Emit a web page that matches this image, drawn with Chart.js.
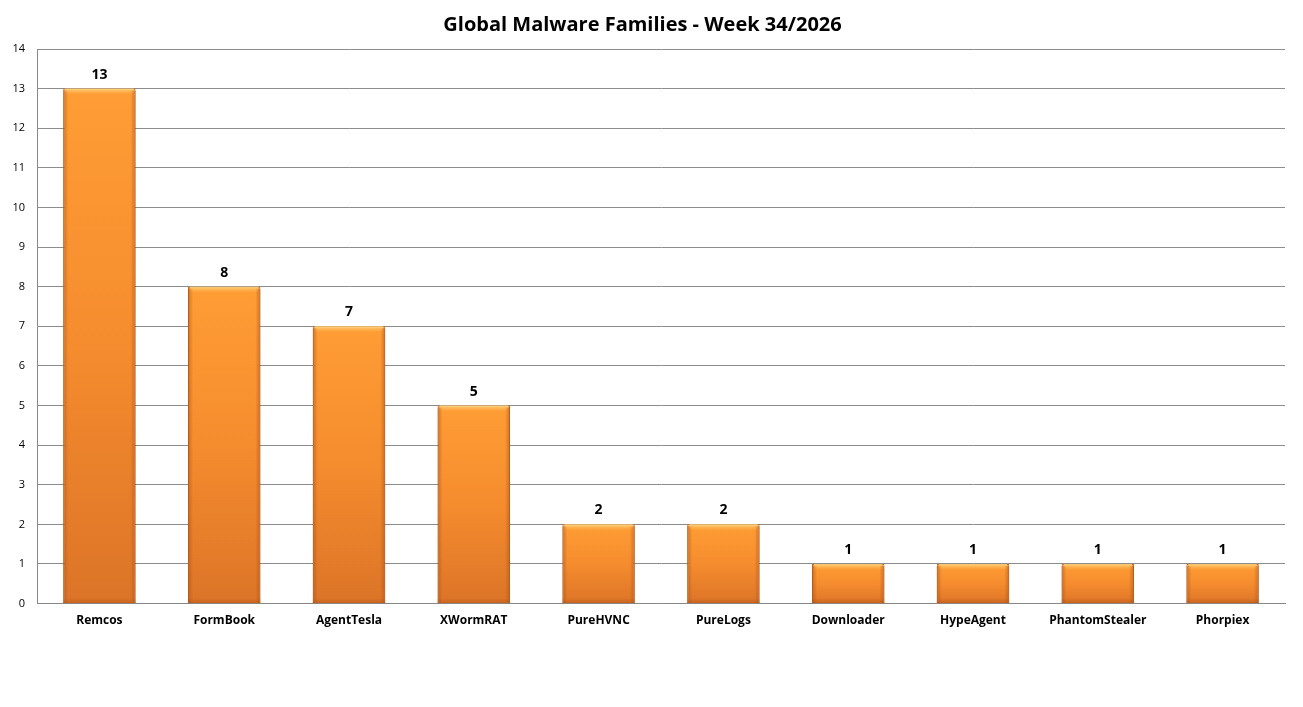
<!DOCTYPE html>
<html>
<head>
<meta charset="utf-8">
<title>Global Malware Families - Week 34/2026</title>
<script src="https://cdn.jsdelivr.net/npm/chart.js@4/dist/chart.umd.min.js"></script>
<style>
  html, body { margin: 0; padding: 0; background: #ffffff; }
  #wrap { width: 1303px; height: 707px; }
</style>
</head>
<body>
<div id="wrap"><canvas id="malwareChart" width="1303" height="707"></canvas></div>
<script>
// Chart data
const families = ['Remcos', 'FormBook', 'AgentTesla', 'XWormRAT', 'PureHVNC', 'PureLogs', 'Downloader', 'HypeAgent', 'PhantomStealer', 'Phorpiex'];
const detections = [13, 8, 7, 5, 2, 2, 1, 1, 1, 1];
const yTicks = [0, 1, 2, 3, 4, 5, 6, 7, 8, 9, 10, 11, 12, 13, 14];

const FONT = 'Open Sans, "DejaVu Sans", sans-serif';

// vertical orange gradient, one per bar (light top, darker bottom)
function barGradient(ctx) {
    const chart = ctx.chart;
    const area = chart.chartArea;
    const yScale = chart.scales.y;
    if (!area || !yScale || ctx.type !== 'data') return '#f08a2e';
    const top = yScale.getPixelForValue(ctx.raw);
    const bottom = yScale.getPixelForValue(0);
    const g = chart.ctx.createLinearGradient(0, top, 0, bottom);
    g.addColorStop(0, '#ff9d35');
    g.addColorStop(0.5, '#f58c2e');
    g.addColorStop(1, '#dc7428');
    return g;
}

// bevel highlight on top and shading on the sides of each bar
const bevelPlugin = {
    id: 'bevel',
    afterDatasetsDraw(chart) {
        const c = chart.ctx;
        chart.getDatasetMeta(0).data.forEach(bar => {
            const left = bar.x - bar.width / 2;
            const right = bar.x + bar.width / 2;
            const top = bar.y;
            const bottom = bar.base;
            c.save();
            // top highlight
            let g = c.createLinearGradient(0, top, 0, top + 6);
            g.addColorStop(0, 'rgba(255, 215, 130, 0.95)');
            g.addColorStop(1, 'rgba(255, 190, 90, 0)');
            c.fillStyle = g;
            c.fillRect(left + 2, top, bar.width - 4, 6);
            // left edge
            g = c.createLinearGradient(left, 0, left + 5, 0);
            g.addColorStop(0, 'rgba(170, 80, 20, 0.55)');
            g.addColorStop(1, 'rgba(170, 80, 20, 0)');
            c.fillStyle = g;
            c.fillRect(left, top + 2, 5, bottom - top - 2);
            // right edge
            g = c.createLinearGradient(right - 5, 0, right, 0);
            g.addColorStop(0, 'rgba(170, 80, 20, 0)');
            g.addColorStop(1, 'rgba(170, 80, 20, 0.55)');
            c.fillStyle = g;
            c.fillRect(right - 5, top + 2, 5, bottom - top - 2);
            // bottom edge
            g = c.createLinearGradient(0, bottom - 5, 0, bottom);
            g.addColorStop(0, 'rgba(170, 80, 20, 0)');
            g.addColorStop(1, 'rgba(170, 80, 20, 0.45)');
            c.fillStyle = g;
            c.fillRect(left, bottom - 5, bar.width, 5);
            c.restore();
        });
    }
};

// value labels above bars
const valueLabels = {
    id: 'valueLabels',
    afterDatasetsDraw(chart) {
        const c = chart.ctx;
        const ds = chart.data.datasets[0];
        c.save();
        c.font = 'bold 14px ' + FONT;
        c.fillStyle = '#000000';
        c.textAlign = 'center';
        c.textBaseline = 'bottom';
        chart.getDatasetMeta(0).data.forEach((bar, i) => {
            c.fillText(ds.data[i], bar.x, bar.y - 7);
        });
        c.restore();
    }
};

new Chart(document.getElementById('malwareChart'), {
    type: 'bar',
    data: {
        labels: families,
        datasets: [{
            data: detections,
            backgroundColor: barGradient,
            borderColor: '#c9681f',
            borderWidth: 1,
            categoryPercentage: 0.58,
            barPercentage: 1.0
        }]
    },
    options: {
        responsive: false,
        animation: false,
        layout: { padding: { left: 0, right: 18, top: 0, bottom: 69 } },
        plugins: {
            legend: { display: false },
            tooltip: { enabled: false },
            title: {
                display: true,
                text: 'Global Malware Families - Week 34/2026',
                color: '#000000',
                font: { family: FONT, size: 20, weight: 'bold' },
                padding: { top: 13, bottom: 12 }
            }
        },
        scales: {
            x: {
                grid: { display: false, drawTicks: false },
                border: { color: '#888888', width: 1 },
                ticks: {
                    color: '#000000',
                    font: { family: FONT, size: 12, weight: 'bold' },
                    padding: 10
                }
            },
            y: {
                min: 0,
                max: 14,
                afterBuildTicks(scale) {
                    scale.ticks = yTicks.map(v => ({ value: v }));
                },
                afterFit(scale) { scale.width = 37; },
                grid: { color: '#8c8c8c', lineWidth: 1, drawTicks: false },
                border: { color: '#888888', width: 1 },
                ticks: {
                    color: '#000000',
                    font: { family: FONT, size: 11 },
                    padding: 12
                }
            }
        }
    },
    plugins: [bevelPlugin, valueLabels]
});
</script>
</body>
</html>
